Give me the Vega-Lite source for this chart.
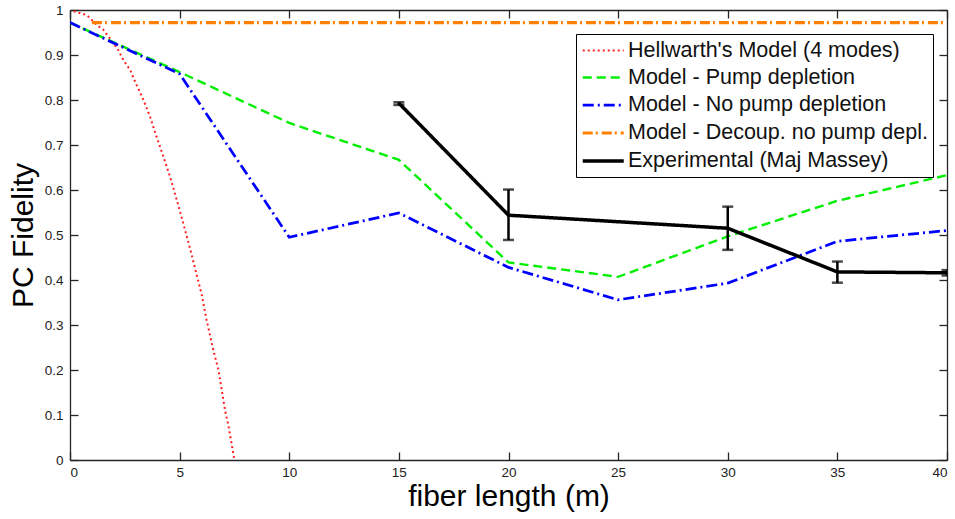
{
  "$schema": "https://vega.github.io/schema/vega-lite/v6.json",
  "width": 877,
  "height": 450,
  "autosize": "none",
  "padding": {"left": 70, "top": 10, "right": 8, "bottom": 59},
  "background": "white",
  "config": {
    "view": {"stroke": null},
    "font": "Liberation Sans",
    "axis": {
      "grid": false,
      "domainColor": "#262626",
      "domainWidth": 1.3,
      "tickColor": "#262626",
      "tickWidth": 1.3,
      "tickSize": -8,
      "labelFont": "Liberation Sans",
      "labelFontSize": 13.5,
      "labelColor": "#222222",
      "titleFont": "Liberation Sans",
      "titleFontSize": 30,
      "titleFontWeight": "normal",
      "titleColor": "#000000"
    },
    "legend": {
      "labelFont": "Liberation Sans",
      "labelFontSize": 21.5,
      "labelColor": "#111111",
      "labelLimit": 0
    }
  },
  "datasets": {
    "curves": [
      {"series": "Hellwarth's Model (4 modes)", "len": 0, "fid": 1.005},
      {"series": "Hellwarth's Model (4 modes)", "len": 0.23, "fid": 0.996},
      {"series": "Hellwarth's Model (4 modes)", "len": 0.76, "fid": 0.989},
      {"series": "Hellwarth's Model (4 modes)", "len": 1.22, "fid": 0.967},
      {"series": "Hellwarth's Model (4 modes)", "len": 1.52, "fid": 0.956},
      {"series": "Hellwarth's Model (4 modes)", "len": 1.82, "fid": 0.937},
      {"series": "Hellwarth's Model (4 modes)", "len": 2.2, "fid": 0.911},
      {"series": "Hellwarth's Model (4 modes)", "len": 2.43, "fid": 0.889},
      {"series": "Hellwarth's Model (4 modes)", "len": 2.74, "fid": 0.867},
      {"series": "Hellwarth's Model (4 modes)", "len": 3.04, "fid": 0.833},
      {"series": "Hellwarth's Model (4 modes)", "len": 3.35, "fid": 0.8},
      {"series": "Hellwarth's Model (4 modes)", "len": 3.65, "fid": 0.763},
      {"series": "Hellwarth's Model (4 modes)", "len": 3.95, "fid": 0.718},
      {"series": "Hellwarth's Model (4 modes)", "len": 4.26, "fid": 0.674},
      {"series": "Hellwarth's Model (4 modes)", "len": 4.56, "fid": 0.63},
      {"series": "Hellwarth's Model (4 modes)", "len": 4.87, "fid": 0.578},
      {"series": "Hellwarth's Model (4 modes)", "len": 5.2, "fid": 0.52},
      {"series": "Hellwarth's Model (4 modes)", "len": 5.55, "fid": 0.456},
      {"series": "Hellwarth's Model (4 modes)", "len": 5.78, "fid": 0.411},
      {"series": "Hellwarth's Model (4 modes)", "len": 6.01, "fid": 0.367},
      {"series": "Hellwarth's Model (4 modes)", "len": 6.23, "fid": 0.311},
      {"series": "Hellwarth's Model (4 modes)", "len": 6.54, "fid": 0.244},
      {"series": "Hellwarth's Model (4 modes)", "len": 6.77, "fid": 0.2},
      {"series": "Hellwarth's Model (4 modes)", "len": 6.92, "fid": 0.156},
      {"series": "Hellwarth's Model (4 modes)", "len": 7.07, "fid": 0.111},
      {"series": "Hellwarth's Model (4 modes)", "len": 7.22, "fid": 0.078},
      {"series": "Hellwarth's Model (4 modes)", "len": 7.5, "fid": 0.0},
      {"series": "Model - Pump depletion", "len": 0, "fid": 0.972},
      {"series": "Model - Pump depletion", "len": 5, "fid": 0.862},
      {"series": "Model - Pump depletion", "len": 10, "fid": 0.749},
      {"series": "Model - Pump depletion", "len": 15, "fid": 0.667},
      {"series": "Model - Pump depletion", "len": 20, "fid": 0.439},
      {"series": "Model - Pump depletion", "len": 25, "fid": 0.407},
      {"series": "Model - Pump depletion", "len": 30, "fid": 0.497},
      {"series": "Model - Pump depletion", "len": 35, "fid": 0.576},
      {"series": "Model - Pump depletion", "len": 40, "fid": 0.633},
      {"series": "Model - No pump depletion", "len": 0, "fid": 0.972},
      {"series": "Model - No pump depletion", "len": 5, "fid": 0.858},
      {"series": "Model - No pump depletion", "len": 10, "fid": 0.495},
      {"series": "Model - No pump depletion", "len": 15, "fid": 0.549},
      {"series": "Model - No pump depletion", "len": 20, "fid": 0.428},
      {"series": "Model - No pump depletion", "len": 25, "fid": 0.356},
      {"series": "Model - No pump depletion", "len": 30, "fid": 0.393},
      {"series": "Model - No pump depletion", "len": 35, "fid": 0.486},
      {"series": "Model - No pump depletion", "len": 40, "fid": 0.51},
      {"series": "Model - Decoup. no pump depl.", "len": 1, "fid": 0.972},
      {"series": "Model - Decoup. no pump depl.", "len": 40, "fid": 0.972},
      {"series": "Experimental (Maj Massey)", "len": 15, "fid": 0.793},
      {"series": "Experimental (Maj Massey)", "len": 20, "fid": 0.544},
      {"series": "Experimental (Maj Massey)", "len": 30, "fid": 0.515},
      {"series": "Experimental (Maj Massey)", "len": 35, "fid": 0.418},
      {"series": "Experimental (Maj Massey)", "len": 40, "fid": 0.416}
    ],
    "errors": [
      {"len": 15, "lo": 0.789, "hi": 0.795},
      {"len": 20, "lo": 0.489, "hi": 0.601},
      {"len": 30, "lo": 0.467, "hi": 0.563},
      {"len": 35, "lo": 0.394, "hi": 0.441},
      {"len": 40, "lo": 0.41, "hi": 0.422}
    ]
  },
  "resolve": {"axis": {"x": "independent", "y": "independent"}},
  "layer": [
    {
      "data": {"name": "curves"},
      "mark": {"type": "line", "clip": true, "strokeCap": "butt"},
      "encoding": {
        "x": {
          "field": "len", "type": "quantitative",
          "scale": {"domain": [0, 40], "nice": false},
          "axis": {"orient": "bottom", "title": "fiber length (m)", "values": [0, 5, 10, 15, 20, 25, 30, 35, 40], "labelPadding": 13, "titlePadding": 3}
        },
        "y": {
          "field": "fid", "type": "quantitative",
          "scale": {"domain": [0, 1], "nice": false},
          "axis": {"orient": "left", "title": "PC Fidelity", "values": [0, 0.1, 0.2, 0.3, 0.4, 0.5, 0.6, 0.7, 0.8, 0.9, 1], "format": ".1~f", "labelPadding": 15, "titlePadding": 6}
        },
        "color": {
          "field": "series", "type": "nominal",
          "scale": {
            "domain": ["Hellwarth's Model (4 modes)", "Model - Pump depletion", "Model - No pump depletion", "Model - Decoup. no pump depl.", "Experimental (Maj Massey)"],
            "range": ["#ff2020", "#00ee00", "#0000ff", "#ff8000", "#000000"]
          },
          "legend": {
            "title": null,
            "orient": "none",
            "legendX": 506,
            "legendY": 24,
            "symbolType": "M-1,0H3",
            "symbolSize": 420,
            "symbolStrokeWidth": 3,
            "symbolFillColor": "transparent",
            "labelOffset": 23,
            "rowPadding": 5,
            "padding": 5,
            "strokeColor": "#000000",
            "fillColor": "#ffffff",
            "cornerRadius": 0
          }
        },
        "strokeDash": {
          "field": "series", "type": "nominal",
          "scale": {
            "domain": ["Hellwarth's Model (4 modes)", "Model - Pump depletion", "Model - No pump depletion", "Model - Decoup. no pump depl.", "Experimental (Maj Massey)"],
            "range": [[2, 3], [9, 5], [11, 4, 2, 4], [10, 3, 2, 4], [1, 0]]
          },
          "legend": {
            "title": null,
            "orient": "none",
            "legendX": 506,
            "legendY": 24,
            "symbolType": "M-1,0H3",
            "symbolSize": 420,
            "symbolStrokeWidth": 3,
            "symbolFillColor": "transparent",
            "labelOffset": 23,
            "rowPadding": 5,
            "padding": 5,
            "strokeColor": "#000000",
            "fillColor": "#ffffff",
            "cornerRadius": 0
          }
        },
        "strokeWidth": {
          "field": "series", "type": "nominal",
          "scale": {
            "domain": ["Hellwarth's Model (4 modes)", "Model - Pump depletion", "Model - No pump depletion", "Model - Decoup. no pump depl.", "Experimental (Maj Massey)"],
            "range": [2, 3.5, 3.5, 3.5, 3]
          },
          "legend": null
        },
        "order": {"field": "len", "type": "quantitative"}
      }
    },
    {
      "data": {"name": "errors"},
      "layer": [
        {
          "mark": {"type": "rule", "color": "#000000", "strokeWidth": 2.5, "clip": true},
          "encoding": {
            "x": {
              "field": "len", "type": "quantitative",
              "axis": {"orient": "top", "labels": false, "title": null, "values": [0, 5, 10, 15, 20, 25, 30, 35, 40]}
            },
            "y": {
              "field": "lo", "type": "quantitative",
              "axis": {"orient": "right", "labels": false, "title": null, "values": [0, 0.1, 0.2, 0.3, 0.4, 0.5, 0.6, 0.7, 0.8, 0.9, 1]}
            },
            "y2": {"field": "hi"}
          }
        },
        {
          "mark": {"type": "tick", "orient": "horizontal", "color": "#000000", "size": 11, "thickness": 2.5, "clip": true},
          "encoding": {
            "x": {"field": "len", "type": "quantitative"},
            "y": {"field": "lo", "type": "quantitative"}
          }
        },
        {
          "mark": {"type": "tick", "orient": "horizontal", "color": "#000000", "size": 11, "thickness": 2.5, "clip": true},
          "encoding": {
            "x": {"field": "len", "type": "quantitative"},
            "y": {"field": "hi", "type": "quantitative"}
          }
        }
      ]
    }
  ]
}
